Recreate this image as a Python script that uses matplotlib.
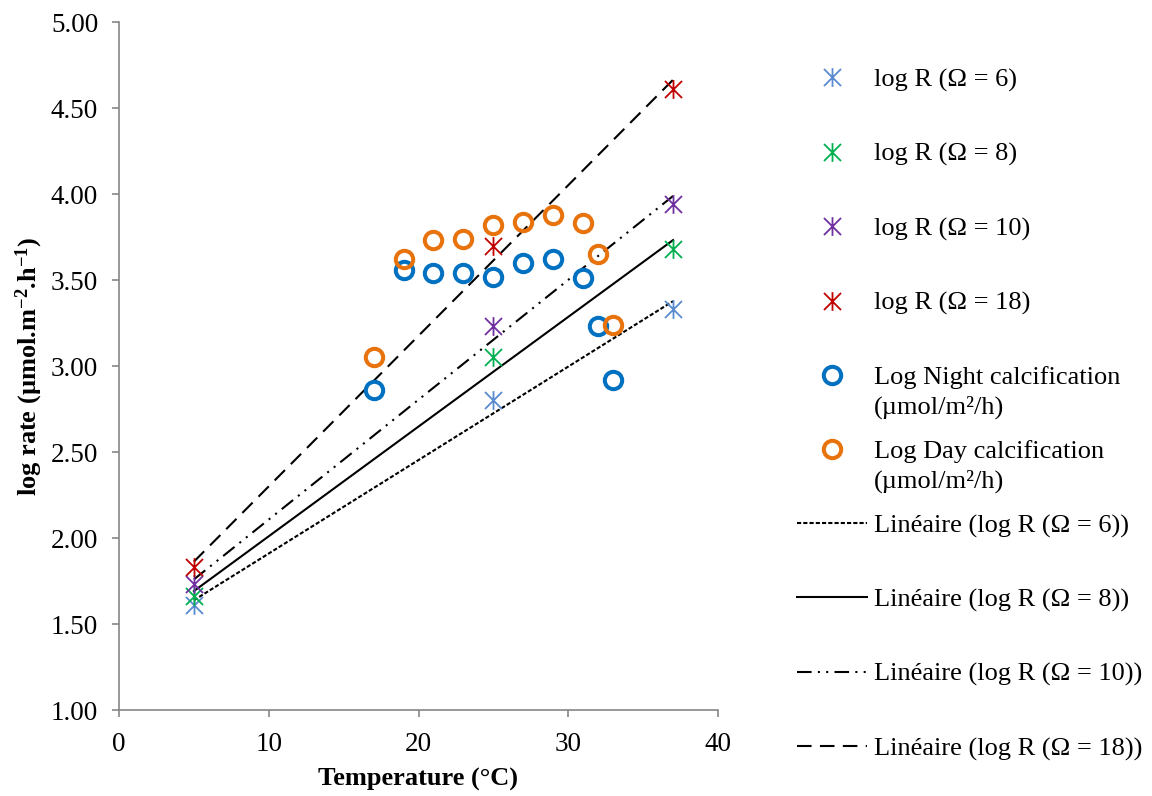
import numpy as np
import matplotlib
matplotlib.use("Agg")
import matplotlib.pyplot as plt
from matplotlib.path import Path

plt.rcParams['font.family'] = ['Liberation Serif', 'DejaVu Serif']
plt.rcParams['mathtext.fontset'] = 'custom'
plt.rcParams['mathtext.rm'] = 'Liberation Serif'
plt.rcParams['mathtext.bf'] = 'Liberation Serif:bold'
plt.rcParams['mathtext.it'] = 'Liberation Serif:italic'

# Rate data at four saturation states
temp_r = [5, 25, 37]
log_r_6 = [1.61, 2.80, 3.33]
log_r_8 = [1.66, 3.05, 3.68]
log_r_10 = [1.73, 3.23, 3.94]
log_r_18 = [1.83, 3.70, 4.61]

# Measured calcification
temp_calc = [17, 19, 21, 23, 25, 27, 29, 31, 32, 33]
log_night = [2.86, 3.56, 3.54, 3.54, 3.52, 3.60, 3.62, 3.51, 3.23, 2.92]
log_day = [3.05, 3.62, 3.73, 3.74, 3.82, 3.84, 3.88, 3.83, 3.65, 3.24]

r_labels = ['log R (Ω = 6)', 'log R (Ω = 8)', 'log R (Ω = 10)', 'log R (Ω = 18)']
r_colors = ['#5A8AD0', '#00B050', '#7030A0', '#C00000']
trend_styles = [(0, (2.0, 1.0)), '-', (0, (7, 3, 1, 3, 1, 3)), (0, (7, 4))]

x_ticks = [0, 10, 20, 30, 40]
y_ticks = [1.0, 1.5, 2.0, 2.5, 3.0, 3.5, 4.0, 4.5, 5.0]

FS = 19

# Asterisk marker: an X crossed by a vertical bar
star = Path([(-1, -1), (1, 1), (-1, 1), (1, -1), (0, -1.1), (0, 1.1)],
            [Path.MOVETO, Path.LINETO, Path.MOVETO, Path.LINETO,
             Path.MOVETO, Path.LINETO])

fig = plt.figure(figsize=(11.52, 7.96), dpi=100)
ax = fig.add_axes([119 / 1152, 1 - 710 / 796, (718 - 119) / 1152, (710 - 22) / 796])

series = [log_r_6, log_r_8, log_r_10, log_r_18]
handles = []
for vals, col, lab in zip(series, r_colors, r_labels):
    h, = ax.plot(temp_r, vals, linestyle='none', marker=star, ms=13.5,
                 mec=col, mfc='none', mew=1.3, label=lab, zorder=4)
    handles.append(h)

hn, = ax.plot(temp_calc, log_night, linestyle='none', marker='o', ms=12.5,
              mec='#0070C0', mfc='none', mew=2.9, label='Log Night calcification', zorder=3)
hd, = ax.plot(temp_calc, log_day, linestyle='none', marker='o', ms=12.5,
              mec='#E8720C', mfc='none', mew=2.9, label='Log Day calcification', zorder=3)
handles += [hn, hd]

# Linear trend lines across the fitted temperature range
xt = np.array([min(temp_r), max(temp_r)])
for vals, ls, lab in zip(series, trend_styles, r_labels):
    slope, icpt = np.polyfit(temp_r, vals, 1)
    h, = ax.plot(xt, slope * xt + icpt, color='black', lw=1.5, linestyle=ls,
                 label='Linéaire (' + lab + ')', zorder=2)
    handles.append(h)

ax.set_xlim(0, 40)
ax.set_ylim(1, 5)
ax.set_xticks(x_ticks)
ax.set_yticks(y_ticks)
ax.set_yticklabels([f'{v:.2f}' for v in y_ticks])
for s in ['top', 'right']:
    ax.spines[s].set_visible(False)
for s in ['left', 'bottom']:
    ax.spines[s].set_color('#868686')
    ax.spines[s].set_linewidth(1.2)
ax.tick_params(axis='both', direction='out', length=5, width=1.2, color='#868686',
               labelsize=19.5)
ax.tick_params(axis='y', pad=10)
ax.tick_params(axis='x', pad=11)

ax.set_xlabel('Temperature (°C)', fontsize=FS, fontweight='bold', labelpad=8)
ax.set_ylabel(r'log rate (µmol.m$^{\mathbf{-2}}$.h$^{\mathbf{-1}}$)',
              fontsize=FS, fontweight='bold', labelpad=4)

leg = fig.legend(handles=handles, loc='upper left',
                 bbox_to_anchor=(797 / 1152, 1 - 68 / 796),
                 frameon=False, fontsize=FS, labelspacing=1.915,
                 handlelength=2.65, handletextpad=0.25, borderpad=0,
                 borderaxespad=0, numpoints=1)

# Second line of the two calcification labels
fig.canvas.draw()
renderer = fig.canvas.get_renderer()
texts = leg.get_texts()
inv = fig.transFigure.inverted()
for idx in (4, 5):
    bb = texts[idx].get_window_extent(renderer)
    x0, y0 = inv.transform((bb.x0, bb.y0))
    fig.text(x0, y0 - 30 / 796, '(µmol/m²/h)', fontsize=FS, ha='left', va='bottom')

fig.savefig('out.png', dpi=100)
